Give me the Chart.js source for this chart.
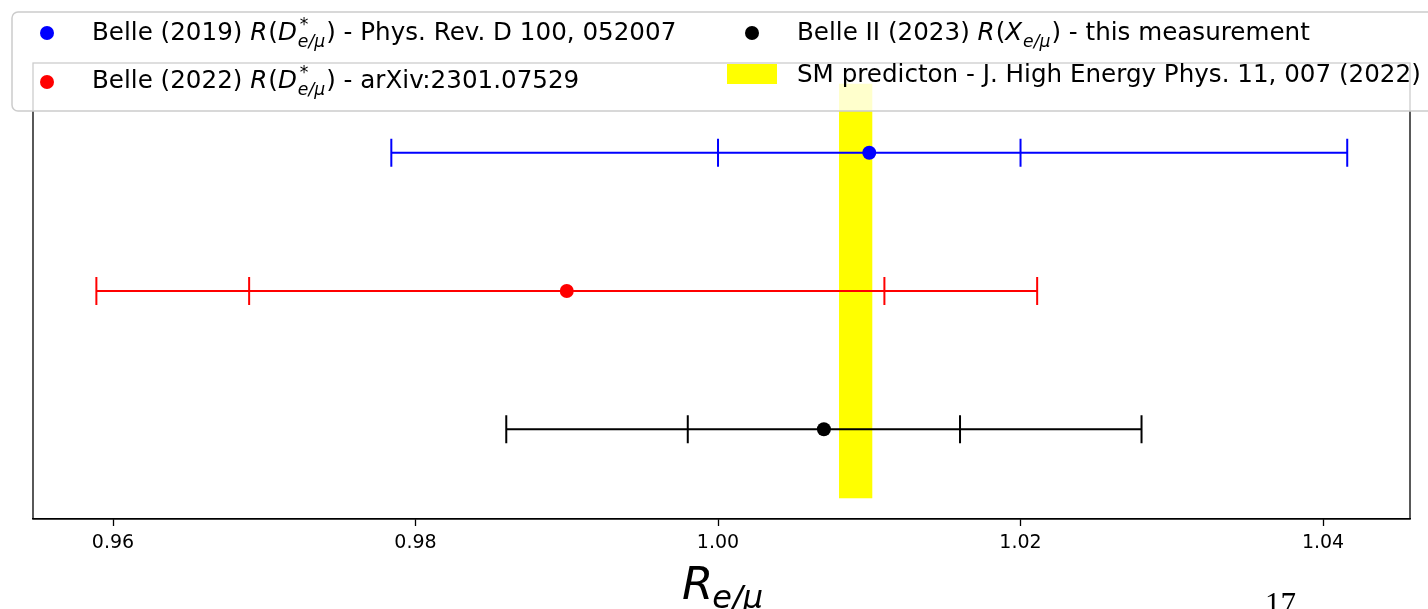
<!DOCTYPE html>
<html>
<head>
<meta charset="utf-8">
<script src="https://cdn.jsdelivr.net/npm/chart.js@4.4.1/dist/chart.umd.min.js"></script>
<style>
  html, body { margin: 0; padding: 0; background: #fff; }
  #wrap { width: 1428px; height: 609px; position: relative; }
</style>
</head>
<body>
<div id="wrap"><canvas id="chart"></canvas></div>
<script>
// measurements, one row each (top to bottom)
const rowNames = ['Belle (2019)', 'Belle (2022)', 'Belle II (2023)'];
const rowPos = [3, 2, 1];
const centers = [1.010, 0.990, 1.007];
const innerErr = [0.010, 0.021, 0.009];
const outerErr = [0.0316, 0.0311, 0.021];
const colors = ['#0000ff', '#ff0000', '#000000'];

// SM prediction band
const smBand = [1.008, 1.0102];
const smRows = [0.5, 3.5];

const xTicks = [0.96, 0.98, 1.00, 1.02, 1.04];
const xRange = [0.95471, 1.04575];
const yRange = [0.35, 3.65];

const FONT = "'DejaVu Sans', sans-serif";

// legend text, math parts split out so they can be set in italic / sub / sup
const legendItems = [
  { marker: 'dot', color: colors[0], mx: 47, my: 33, tx: 92, base: 40,
    parts: [{t: 'Belle (2019) '}, {t: 'R', it: 1}, {t: '('}, {t: 'D', it: 1}, {sup: '*', sub: 'e/μ'}, {t: ')'}, {t: ' - Phys. Rev. D 100, 052007'}] },
  { marker: 'dot', color: colors[1], mx: 47, my: 82, tx: 92, base: 88,
    parts: [{t: 'Belle (2022) '}, {t: 'R', it: 1}, {t: '('}, {t: 'D', it: 1}, {sup: '*', sub: 'e/μ'}, {t: ')'}, {t: ' - arXiv:2301.07529'}] },
  { marker: 'dot', color: colors[2], mx: 752, my: 33, tx: 797, base: 40,
    parts: [{t: 'Belle II (2023) '}, {t: 'R', it: 1}, {t: '('}, {t: 'X', it: 1}, {sub: 'e/μ'}, {t: ')'}, {t: ' - this measurement'}] },
  { marker: 'rect', color: '#ffff00', mx: 752, my: 74, tx: 797, base: 82,
    parts: [{t: 'SM predicton - J. High Energy Phys. 11, 007 (2022)'}] }
];

function setFont(ctx, size, italic) {
  ctx.font = (italic ? 'oblique ' : '') + size + 'px ' + FONT;
}

// draws a run of text pieces left to right, returns end x
function drawRich(ctx, x, y, parts, size) {
  ctx.textBaseline = 'alphabetic';
  ctx.textAlign = 'left';
  for (const p of parts) {
    if (p.sub || p.sup) {
      const s = size * 0.7;
      let w = 0;
      if (p.sup) {
        setFont(ctx, s, false);
        ctx.fillText(p.sup, x + 2, y - size * 0.42);
        w = Math.max(w, ctx.measureText(p.sup).width + 2);
      }
      if (p.sub) {
        setFont(ctx, s, true);
        ctx.fillText(p.sub, x, y + size * 0.3);
        w = Math.max(w, ctx.measureText(p.sub).width);
      }
      x += w + 1;
      continue;
    }
    setFont(ctx, size, p.it);
    ctx.fillText(p.t, x, y);
    x += ctx.measureText(p.t).width + (p.it ? 1 : 0);
  }
  return x;
}

const bandPlugin = {
  id: 'smBand',
  beforeDatasetsDraw(chart) {
    const {ctx, scales: {x, y}} = chart;
    ctx.save();
    ctx.fillStyle = '#ffff00';
    const x0 = x.getPixelForValue(smBand[0]), x1 = x.getPixelForValue(smBand[1]);
    const y0 = y.getPixelForValue(smRows[1]), y1 = y.getPixelForValue(smRows[0]);
    ctx.fillRect(x0, y0, x1 - x0, y1 - y0);

    // error bars with caps at both the inner and outer errors
    ctx.lineWidth = 2;
    for (let i = 0; i < centers.length; i++) {
      const py = y.getPixelForValue(rowPos[i]);
      const lo = x.getPixelForValue(centers[i] - outerErr[i]);
      const hi = x.getPixelForValue(centers[i] + outerErr[i]);
      ctx.strokeStyle = colors[i];
      ctx.beginPath();
      ctx.moveTo(lo, py);
      ctx.lineTo(hi, py);
      const caps = [centers[i] - outerErr[i], centers[i] - innerErr[i], centers[i] + innerErr[i], centers[i] + outerErr[i]];
      for (const c of caps) {
        const cx = x.getPixelForValue(c);
        ctx.moveTo(cx, py - 14);
        ctx.lineTo(cx, py + 14);
      }
      ctx.stroke();
    }
    ctx.restore();
  }
};

const framePlugin = {
  id: 'frameAndLegend',
  afterDraw(chart) {
    const {ctx, chartArea: a} = chart;
    ctx.save();
    ctx.strokeStyle = '#000';
    ctx.lineWidth = 1.3;
    ctx.strokeRect(a.left, a.top, a.right - a.left, a.bottom - a.top);

    // axis title R_{e/mu}
    ctx.fillStyle = '#000';
    let tx = drawRich(ctx, 682, 599, [{t: 'R', it: 1}], 45);
    setFont(ctx, 32, true);
    ctx.fillText('e/μ', tx - 2, 608);

    // page number
    ctx.font = "31px 'Liberation Serif', serif";
    ctx.fillText('17', 1265, 614);

    // legend box, semi transparent over the axes
    const r = 6, bx = 12, by = 12, bw = 1440, bh = 99;
    ctx.beginPath();
    ctx.moveTo(bx + r, by);
    ctx.lineTo(bx + bw, by);
    ctx.lineTo(bx + bw, by + bh);
    ctx.lineTo(bx + r, by + bh);
    ctx.arcTo(bx, by + bh, bx, by + bh - r, r);
    ctx.lineTo(bx, by + r);
    ctx.arcTo(bx, by, bx + r, by, r);
    ctx.closePath();
    ctx.fillStyle = 'rgba(255,255,255,0.8)';
    ctx.fill();
    ctx.strokeStyle = '#cccccc';
    ctx.lineWidth = 1.5;
    ctx.stroke();

    for (const it of legendItems) {
      ctx.fillStyle = it.color;
      if (it.marker === 'dot') {
        ctx.beginPath();
        ctx.arc(it.mx, it.my, 7, 0, Math.PI * 2);
        ctx.fill();
      } else {
        ctx.fillRect(it.mx - 25, it.my - 10, 50, 20);
      }
      ctx.fillStyle = '#000';
      drawRich(ctx, it.tx, it.base, it.parts, 24.6);
    }
    ctx.restore();
  }
};

const datasets = rowNames.map((name, i) => ({
  label: name,
  data: [{x: centers[i], y: rowPos[i]}],
  backgroundColor: colors[i],
  borderColor: colors[i],
  pointRadius: 7,
  pointHoverRadius: 7,
  borderWidth: 0
}));

new Chart(document.getElementById('chart'), {
  type: 'scatter',
  data: { datasets },
  options: {
    responsive: true,
    maintainAspectRatio: false,
    animation: false,
    events: [],
    layout: { padding: { left: 33, top: 63, right: 18, bottom: 0 } },
    plugins: { legend: { display: false }, tooltip: { enabled: false } },
    scales: {
      x: {
        type: 'linear',
        min: xRange[0],
        max: xRange[1],
        afterBuildTicks: s => { s.ticks = xTicks.map(v => ({value: v})); },
        afterFit: s => { s.height = 90; },
        grid: { drawOnChartArea: false, drawTicks: true, tickLength: 7, tickColor: '#000', tickWidth: 1.3 },
        border: { display: true, color: '#000', width: 1.3 },
        ticks: {
          autoSkip: false, maxRotation: 0, padding: 6, color: '#000',
          font: { family: FONT, size: 19 },
          callback: v => v.toFixed(2)
        }
      },
      y: { type: 'linear', display: false, min: yRange[0], max: yRange[1] }
    }
  },
  plugins: [bandPlugin, framePlugin]
});
</script>
</body>
</html>
